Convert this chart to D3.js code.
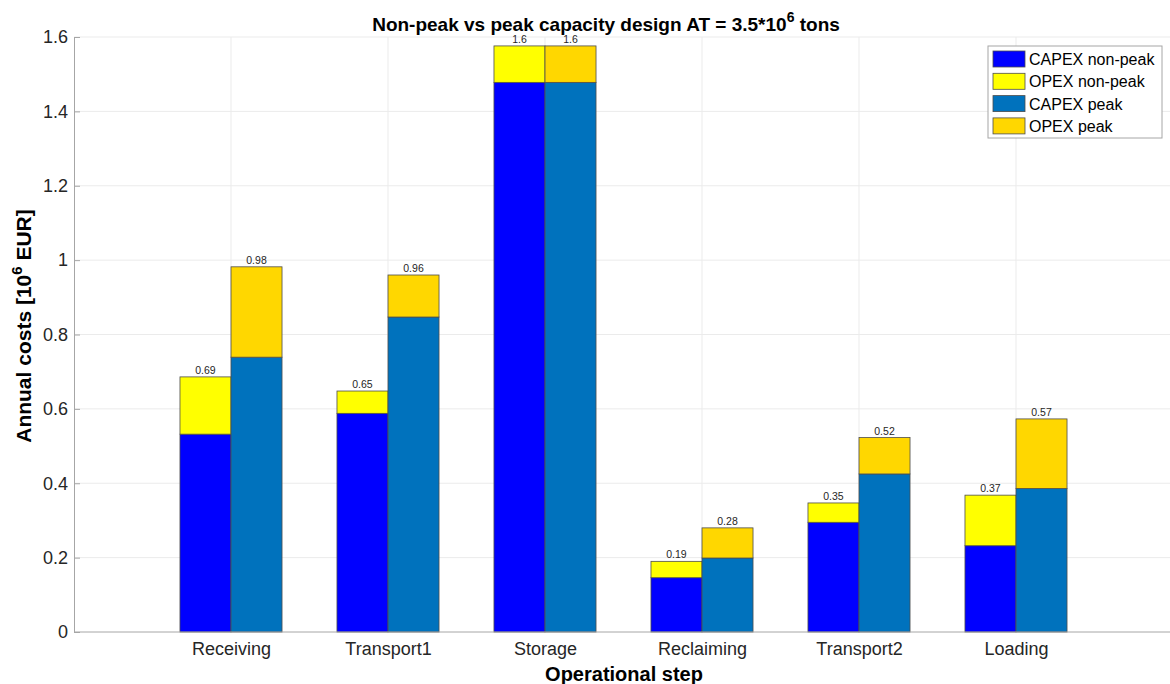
<!DOCTYPE html>
<html><head><meta charset="utf-8">
<script src="https://cdn.jsdelivr.net/npm/d3@7"></script>
<style>html,body{margin:0;padding:0;background:#fff;}svg{display:block;font-family:"Liberation Sans",Arial,sans-serif;}</style>
</head><body>
<svg id="chart" width="1170" height="684"></svg>
<script>
const categories = ["Receiving","Transport1","Storage","Reclaiming","Transport2","Loading"];
const capexNonPeak = [0.532, 0.588, 1.478, 0.146, 0.295, 0.232];
const opexNonPeak  = [0.154, 0.060, 0.098, 0.044, 0.052, 0.136];
const capexPeak    = [0.739, 0.847, 1.478, 0.199, 0.425, 0.386];
const opexPeak     = [0.243, 0.113, 0.098, 0.081, 0.098, 0.187];
const yTicks = [0, 0.2, 0.4, 0.6, 0.8, 1, 1.2, 1.4, 1.6];
const seriesNames = ["CAPEX non-peak","OPEX non-peak","CAPEX peak","OPEX peak"];
const seriesColors = ["#0000ff","#ffff00","#0072bd","#ffd700"];

const svg = d3.select("#chart");
const L = 74, R = 1173, T = 37, B = 632;
const x = d3.scaleLinear().domain([0, categories.length + 1]).range([L, R]);
const y = d3.scaleLinear().domain([0, 1.6]).range([B, T]);
const bw = 0.325;
const grid = "#ebebeb", axisCol = "#a6a6a6";

// gridlines
svg.append("g").selectAll("line").data(yTicks.slice(1)).join("line")
  .attr("x1", L).attr("x2", 1170).attr("y1", d => y(d)).attr("y2", d => y(d))
  .attr("stroke", grid).attr("stroke-width", 1);
svg.append("g").selectAll("line").data(categories).join("line")
  .attr("x1", (d,i) => x(i+1)).attr("x2", (d,i) => x(i+1)).attr("y1", T).attr("y2", B)
  .attr("stroke", grid).attr("stroke-width", 1);

// bars
const groups = [
  {cap: capexNonPeak, op: opexNonPeak, off: -bw, c1: 0, c2: 1},
  {cap: capexPeak, op: opexPeak, off: 0, c1: 2, c2: 3}
];
const fmt = d3.format(".2~g");
groups.forEach(g => {
  const gg = svg.append("g");
  gg.selectAll("rect.cap").data(categories).join("rect").attr("class","cap")
    .attr("x", (d,i) => x(i+1+g.off)).attr("width", (d,i) => x(i+1+g.off+bw) - x(i+1+g.off))
    .attr("y", (d,i) => y(g.cap[i])).attr("height", (d,i) => y(0) - y(g.cap[i]))
    .attr("fill", seriesColors[g.c1]).attr("stroke", "#4d4d4d").attr("stroke-width", 0.8);
  gg.selectAll("rect.op").data(categories).join("rect").attr("class","op")
    .attr("x", (d,i) => x(i+1+g.off)).attr("width", (d,i) => x(i+1+g.off+bw) - x(i+1+g.off))
    .attr("y", (d,i) => y(g.cap[i] + g.op[i])).attr("height", (d,i) => y(g.cap[i]) - y(g.cap[i] + g.op[i]))
    .attr("fill", seriesColors[g.c2]).attr("stroke", "#4d4d4d").attr("stroke-width", 0.8);
  gg.selectAll("text").data(categories).join("text")
    .attr("x", (d,i) => x(i+1+g.off+bw/2)).attr("y", (d,i) => y(g.cap[i] + g.op[i]) - 3)
    .attr("text-anchor","middle").attr("font-size", 10.5).attr("fill","#262626")
    .text((d,i) => fmt(g.cap[i] + g.op[i]));
});

// axes
const yAxis = d3.axisLeft(y).tickValues(yTicks).tickFormat(d3.format("~g")).tickSizeInner(-6).tickSizeOuter(0).tickPadding(6);
const ya = svg.append("g").attr("transform", `translate(${L},0)`).call(yAxis);
ya.select(".domain").attr("stroke", axisCol);
ya.selectAll(".tick line").attr("stroke", axisCol);
ya.selectAll(".tick text").attr("font-size", 18).attr("fill","#262626").attr("font-family","Liberation Sans, Arial, sans-serif");

const xAxis = d3.axisBottom(x).tickValues(d3.range(1, categories.length+1)).tickFormat(d => categories[d-1]).tickSize(0).tickPadding(10);
const xa = svg.append("g").attr("transform", `translate(0,${B})`).call(xAxis);
xa.select(".domain").attr("stroke", axisCol).attr("d", `M${L},0H1170`);
xa.selectAll(".tick text").attr("font-size", 18).attr("fill","#262626").attr("font-family","Liberation Sans, Arial, sans-serif");

// titles
const title = svg.append("text").attr("x", 606).attr("y", 31).attr("text-anchor","middle")
  .attr("font-size", 19).attr("font-weight","bold").attr("fill","#000");
title.append("tspan").text("Non-peak vs peak capacity design AT = 3.5*10");
title.append("tspan").attr("font-size", 14).attr("dy", -9).text("6");
title.append("tspan").attr("dy", 9).text(" tons");

svg.append("text").attr("x", 624).attr("y", 681).attr("text-anchor","middle")
  .attr("font-size", 20).attr("font-weight","bold").attr("fill","#000").text("Operational step");

const yl = svg.append("text").attr("transform","translate(31,326) rotate(-90)").attr("text-anchor","middle")
  .attr("font-size", 21).attr("font-weight","bold").attr("fill","#000");
yl.append("tspan").text("Annual costs [10");
yl.append("tspan").attr("font-size", 15).attr("dy", -9).text("6");
yl.append("tspan").attr("dy", 9).text(" EUR]");

// legend
const lg = svg.append("g");
lg.append("rect").attr("x", 988).attr("y", 46).attr("width", 174).attr("height", 92)
  .attr("fill","#fff").attr("stroke","#a6a6a6").attr("stroke-width",1);
const items = lg.selectAll("g.item").data(seriesNames).join("g").attr("class","item")
  .attr("transform", (d,i) => `translate(993,${59 + i*22.3})`);
items.append("rect").attr("x",0).attr("y",-8).attr("width",32).attr("height",16)
  .attr("fill",(d,i) => seriesColors[i]).attr("stroke","#4d4d4d").attr("stroke-width",0.8);
items.append("text").attr("x",36).attr("y",6).attr("font-size",16).attr("fill","#000").text(d => d);
</script>
</body></html>
